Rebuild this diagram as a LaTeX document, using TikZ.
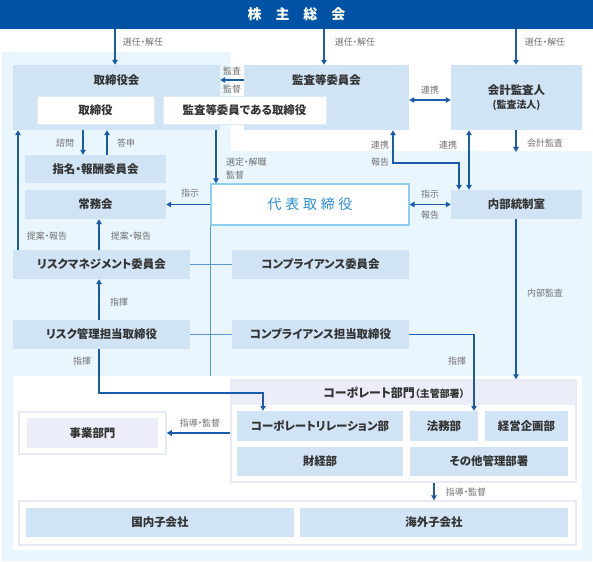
\documentclass[tikz,border=0pt]{standalone}
\usepackage{fontspec}
\setmainfont{Noto Sans CJK JP}[RawFeature={+palt}]
\usetikzlibrary{arrows.meta}
\definecolor{bannerc}{HTML}{0052A4}
\definecolor{bgl}{HTML}{EAF6FD}
\definecolor{boxc}{HTML}{D0E4F5}
\definecolor{lav}{HTML}{EBEEF9}
\definecolor{lavb}{HTML}{E6E9F6}
\definecolor{arrc}{HTML}{1A5BAD}
\definecolor{lnc}{HTML}{5B97D1}
\definecolor{lbl}{HTML}{707070}
\definecolor{txt}{HTML}{333333}
\definecolor{dtc}{HTML}{2C8CD4}
\definecolor{dtb}{HTML}{8FD0F2}
\begin{document}
\begin{tikzpicture}[x=1bp,y=-1bp,
  box/.style={fill=boxc, draw=none, inner sep=0pt, font=\fontsize{11.5}{13}\selectfont\bfseries, text=txt},
  wbox/.style={fill=white, draw=boxc!70, line width=0.8bp, inner sep=0pt, font=\fontsize{11.5}{13}\selectfont\bfseries, text=txt},
  lavbox/.style={fill=lav, draw=none, inner sep=0pt, font=\fontsize{11.5}{13}\selectfont\bfseries, text=txt},
  frame/.style={fill=white, draw=lavb, line width=1.5bp, inner sep=0pt},
  ttl/.style={inner sep=0pt, font=\fontsize{11.5}{13}\selectfont\bfseries, text=txt},
  lab/.style={font=\fontsize{9}{10}\selectfont, text=lbl, inner sep=0pt},
  arr/.style={draw=arrc, line width=1.1bp, -{Triangle[length=5bp,width=5.5bp]}},
  darr/.style={draw=arrc, line width=1.1bp, {Triangle[length=5bp,width=5.5bp]}-{Triangle[length=5bp,width=5.5bp]}},
  ln/.style={draw=lnc, line width=1bp},
]
\useasboundingbox (0,0) rectangle (593,562);
% background areas
\fill[bgl] (2,52) -- (231,52) -- (231,151) -- (592,151) -- (592,561) -- (2,561) -- cycle;
\node[fill=white, minimum width=569bp, minimum height=174bp, inner sep=0pt] (iw) at (297.5,463) {};
% banner
\node[fill=bannerc, minimum width=593bp, minimum height=29bp, inner sep=0pt, text=white,
  font=\fontsize{14}{16}\selectfont\bfseries] (banner) at (296.5,14.5) {株\kern14pt 主\kern14pt 総\kern14pt 会};
% top row
\node[box, minimum width=207bp, minimum height=65bp] (tbm) at (116.5,97.5) {};
\node[ttl] (tbmt) at (116.5,80) {取締役会};
\node[box, minimum width=165bp, minimum height=65bp] (kk) at (326.5,97.5) {};
\node[ttl] (kkt) at (326.5,80) {監査等委員会};
\node[wbox, minimum width=117bp, minimum height=28bp] (tb) at (95.5,110) {取締役};
\node[wbox, minimum width=163bp, minimum height=28bp] (kt) at (244.5,110) {監査等委員である取締役};
\node[box, minimum width=131bp, minimum height=65bp, align=center] (ka) at (516.5,97.5)
  {会計監査人\\[1pt]{\fontsize{10}{12}\selectfont (監査法人)}};
% middle
\node[box, minimum width=141bp, minimum height=28bp] (sh) at (95.5,169) {指名・報酬委員会};
\node[box, minimum width=141bp, minimum height=29bp] (jm) at (95.5,204.5) {常務会};
\node[fill=white, draw=dtb, line width=1.2bp, inner sep=0pt, minimum width=198bp, minimum height=41bp,
  text=dtc, font=\fontsize{14}{16}\selectfont] (dt) at (310,204.5) {代\kern3.8pt 表\kern3.8pt 取\kern3.8pt 締\kern3.8pt 役};
\node[box, minimum width=131bp, minimum height=29bp] (nt) at (516.5,204.5) {内部統制室};
\node[box, minimum width=177bp, minimum height=29bp] (rm) at (101.5,264.5) {リスクマネジメント委員会};
\node[box, minimum width=177bp, minimum height=29bp] (ci) at (320.5,264.5) {コンプライアンス委員会};
\node[box, minimum width=177bp, minimum height=29bp] (rt) at (101.5,334.5) {リスク管理担当取締役};
\node[box, minimum width=177bp, minimum height=29bp] (ct) at (320.5,334.5) {コンプライアンス担当取締役};
% lower
\node[frame, minimum width=147bp, minimum height=42bp] (jo) at (92.5,433) {};
\node[lavbox, minimum width=131bp, minimum height=30bp] (jb) at (92.5,433) {事業部門};
\node[frame, minimum width=345bp, minimum height=102bp] (cc) at (403.5,431) {};
\node[fill=lav, minimum width=344bp, minimum height=24bp, inner sep=0pt] (ch) at (403.5,392.5) {};
\node[ttl, font=\fontsize{12}{14}\selectfont\bfseries] (cht) at (394,392.5) {コーポレート部門{\fontsize{10}{11}\selectfont （主管部署）}};
\node[box, minimum width=166bp, minimum height=30bp] (cr) at (320,426) {コーポレートリレーション部};
\node[box, minimum width=68bp, minimum height=30bp] (hm) at (444,426) {法務部};
\node[box, minimum width=83bp, minimum height=30bp] (kp) at (526.5,426) {経営企画部};
\node[box, minimum width=166bp, minimum height=29bp] (zk) at (320,461.5) {財経部};
\node[box, minimum width=158bp, minimum height=29bp] (sk) at (489,461.5) {その他管理部署};
\node[frame, minimum width=557bp, minimum height=44bp] (bo) at (297.5,523) {};
\node[box, minimum width=268bp, minimum height=29bp] (kn) at (160,522.5) {国内子会社};
\node[box, minimum width=268bp, minimum height=29bp] (kg) at (434,522.5) {海外子会社};
% helper coordinates
\coordinate (x18) at (18,0);
\coordinate (x83) at (83,0);
\coordinate (x99) at (99,0);
\coordinate (x107) at (107,0);
\coordinate (x115) at (115,0);
\coordinate (x216) at (216,0);
\coordinate (x324) at (324,0);
\coordinate (x434) at (434,0);
\coordinate (x469) at (469,0);
\coordinate (x516) at (516,0);
\coordinate (k1) at (263,393);
\coordinate (k2) at (474,334.5);
\coordinate (k3) at (393,163);
\coordinate (k4) at (459,163);
\coordinate (k5) at (516,152);
% plain lines
\draw[ln] (dt.south west) -- (dt.south west |- iw.north);
\draw[ln] (rm.east) -- (ci.west);
\draw[ln] (rt.east) -- (ct.west);
% arrows
\draw[arr] (x115 |- banner.south) -- (x115 |- tbm.north);
\draw[arr] (x324 |- banner.south) -- (x324 |- kk.north);
\draw[arr] (x516 |- banner.south) -- (x516 |- ka.north);
\draw[arr] (kk.west |- tbmt) -- (tbm.east |- tbmt);
\draw[darr] ([yshift=-2.5bp]kk.east) -- ([yshift=-2.5bp]ka.west);
\draw[arr] (x83 |- tbm.south) -- (x83 |- sh.north);
\draw[arr] (x107 |- sh.north) -- (x107 |- tbm.south);
\draw[arr] (x18 |- rm.north) -- (x18 |- tbm.south);
\draw[arr] (x216 |- tbm.south) -- (x216 |- dt.north);
\draw[arr] (dt.west) -- (jm.east);
\draw[arr] (x99 |- rm.north) -- (x99 |- jm.south);
\draw[arr] (x99 |- rt.north) -- (x99 |- rm.south);
\draw[arr] (x99 |- rt.south) |- (k1) -- (k1 |- cr.north);
\draw[arr] (ct.east) -- (k2) -- (k2 |- hm.north);
\draw[darr] (k3 |- kk.south) -- (k3) -- (k4) -- (k4 |- nt.north);
\draw[darr] (x469 |- ka.south) -- (x469 |- nt.north);
\draw[arr] (x516 |- ka.south) -- (k5);
\draw[darr] (dt.east) -- (nt.west);
\draw[arr] (x516 |- nt.south) -- (x516 |- cc.north);
\draw[arr] (cc.west |- jb) -- (jo.east |- jb);
\draw[arr] (x434 |- cc.south) -- (x434 |- bo.north);
% labels
\node[lab] (l1) at (143,42) {選任・解任};
\node[lab] (l2) at (355,42) {選任・解任};
\node[lab] (l3) at (545,42) {選任・解任};
\node[lab] (l4) at (232,71) {監査};
\node[lab] (l5) at (232,89) {監督};
\node[lab] (l6) at (430,90) {連携};
\node[lab] (l7) at (65,143) {諮問};
\node[lab] (l8) at (126,143) {答申};
\node[lab, anchor=west] (l9) at (226,162) {選定・解職};
\node[lab, anchor=west] (l10) at (226,175) {監督};
\node[lab] (l11) at (380,145) {連携};
\node[lab] (l12) at (380,162) {報告};
\node[lab] (l13) at (448,145) {連携};
\node[lab] (l14) at (545,143) {会計監査};
\node[lab] (l15) at (190,193) {指示};
\node[lab] (l16) at (430,194) {指示};
\node[lab] (l17) at (430,215) {報告};
\node[lab] (l18) at (47,236) {提案・報告};
\node[lab] (l19) at (131,236) {提案・報告};
\node[lab] (l20) at (119,302) {指揮};
\node[lab] (l21) at (545,293) {内部監査};
\node[lab] (l22) at (82,361) {指揮};
\node[lab] (l23) at (457,361) {指揮};
\node[lab] (l24) at (200,423) {指導・監督};
\node[lab] (l25) at (466,492) {指導・監督};
\end{tikzpicture}
\end{document}
